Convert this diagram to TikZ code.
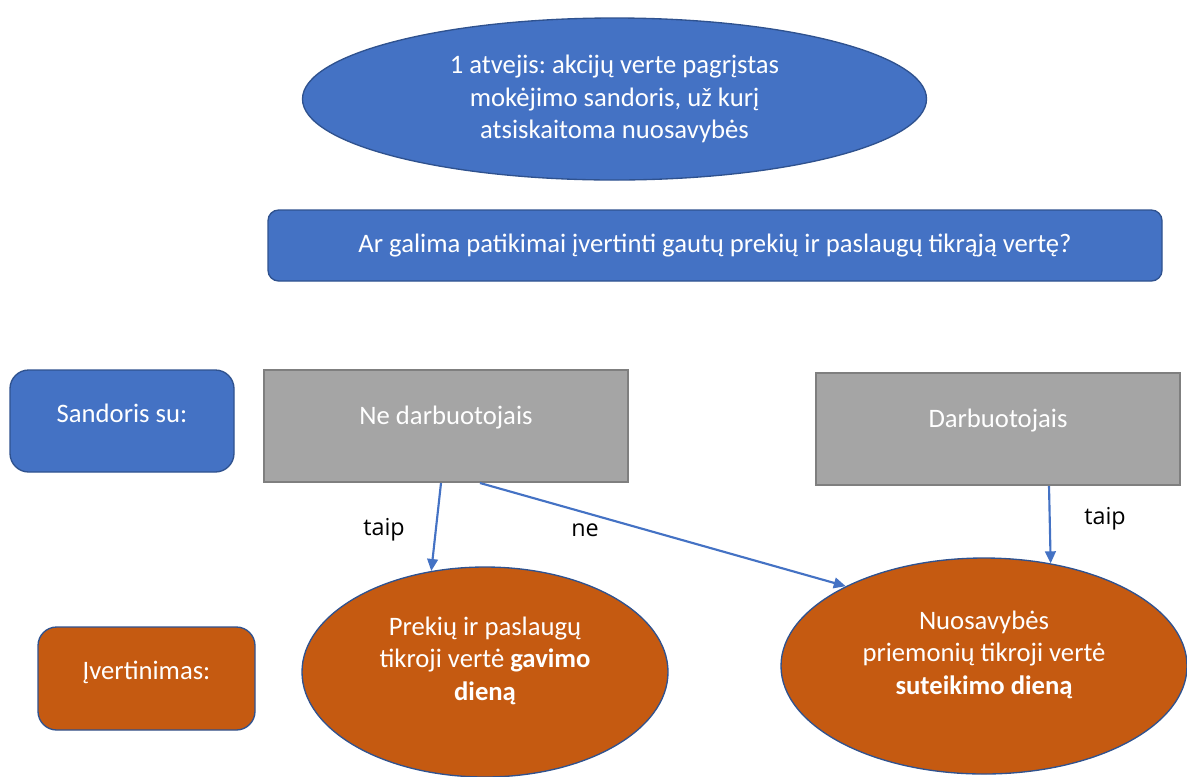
\documentclass[tikz,border=0pt]{standalone}
\usepackage{fontspec}
\setmainfont{Carlito}
\newfontfamily\edgefont{Open Sans}
\usetikzlibrary{shapes.geometric,arrows.meta}
\frenchspacing

\definecolor{accblue}{RGB}{68,114,196}
\definecolor{edgeblue}{RGB}{47,82,143}
\definecolor{boxgray}{RGB}{165,165,165}
\definecolor{edgegray}{RGB}{127,127,127}
\definecolor{accorange}{RGB}{197,90,17}

\tikzset{every picture/.style={line width=0.75pt}}
\tikzset{
  shapetext/.style={text=white, align=center, font=\fontsize{20}{24.5}\selectfont},
  ovalblue/.style={shapetext, ellipse, draw=edgeblue, fill=accblue, line width=1pt, inner sep=0pt},
  ovalorange/.style={shapetext, ellipse, draw=edgeblue, fill=accorange, line width=1pt, inner sep=0pt, text depth=20pt},
  roundblue/.style={shapetext, rectangle, rounded corners=14pt, draw=edgeblue, fill=accblue, line width=1pt},
  roundorange/.style={shapetext, rectangle, rounded corners=14pt, draw=edgeblue, fill=accorange, line width=1pt, text depth=12pt},
  graybox/.style={shapetext, rectangle, draw=edgegray, fill=boxgray, line width=1.5pt, text depth=16.5pt},
  flowarrow/.style={draw=accblue, line width=1.6pt, -{Triangle[length=9pt,width=8pt]}},
  edgelabel/.style={inner sep=0.75pt, font=\edgefont\fontsize{17.5}{21}\selectfont}
}

\begin{document}
\begin{tikzpicture}[x=0.75pt,y=0.75pt,yscale=-1,xscale=1]
\path[use as bounding box] (0,0) rectangle (1187,776);

%Shape: Ellipse
\draw (614.5,99) node [ovalblue, minimum width=468pt, minimum height=121.5pt] (atvejis) {1 atvejis: akcijų verte pagrįstas\\mokėjimo sandoris, už kurį\\atsiskaitoma nuosavybės};
%Shape: Rounded Rectangle
\draw (715,245.5) node [roundblue, rounded corners=8pt, minimum width=670.5pt, minimum height=53.25pt] (klausimas) {Ar galima patikimai įvertinti gautų prekių ir paslaugų tikrąją vertę?};

%Shape: Rounded Rectangle
\draw (122,421) node [roundblue, minimum width=168pt, minimum height=76.5pt, text depth=12pt] (sandoris) {Sandoris su:};
%Shape: Rectangle
\draw (446,426) node [graybox, minimum width=273pt, minimum height=84pt] (nedarb) {Ne darbuotojais};
%Shape: Rectangle
\draw (998,429) node [graybox, minimum width=273pt, minimum height=84pt] (darb) {Darbuotojais};

%Shape: Rounded Rectangle
\draw (146.5,678.5) node [roundorange, minimum width=162.75pt, minimum height=77.25pt] (ivert) {Įvertinimas:};
%Shape: Ellipse
\draw (485,672) node [ovalorange, minimum width=274.5pt, minimum height=157.5pt] (gavimo) {Prekių ir paslaugų\\tikroji vertė \textbf{gavimo}\\\textbf{dieną}};
%Shape: Ellipse
\draw (984,666) node [ovalorange, minimum width=304.5pt, minimum height=162pt] (suteikimo) {Nuosavybės\\priemonių tikroji vertė\\\textbf{suteikimo dieną}};

%Straight Lines
\draw [flowarrow] ([xshift=-3.75pt]nedarb.south) -- (gavimo.118);
%Straight Lines
\draw [flowarrow] ([xshift=25.5pt]nedarb.south) -- (suteikimo.150);
%Straight Lines
\draw [flowarrow] ([xshift=38.25pt]darb.south) -- (suteikimo.57);

% Text Node
\draw (384,530) node [edgelabel] (taipkaire) {taip};
% Text Node
\draw (585,530) node [edgelabel] (ne) {ne};
% Text Node
\draw (1105,519) node [edgelabel] (taipdesine) {taip};

\end{tikzpicture}
\end{document}
